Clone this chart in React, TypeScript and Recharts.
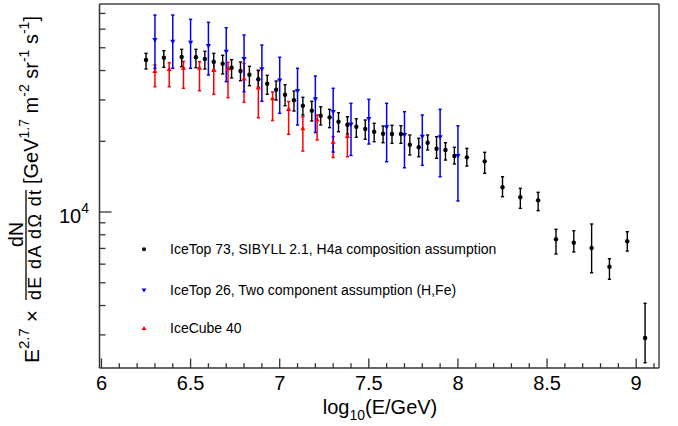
import React from 'react';
import { ComposedChart, Scatter, XAxis, YAxis, ErrorBar, Legend } from 'recharts';

const FONT = '"Liberation Sans", Arial, Helvetica, sans-serif';

// IceTop 73, SIBYLL 2.1, H4a
const blackX = [6.25, 6.35, 6.45, 6.53, 6.58, 6.63, 6.68, 6.73, 6.78, 6.83, 6.88, 6.93, 6.98, 7.03, 7.08,
  7.13, 7.18, 7.23, 7.28, 7.33, 7.38, 7.43, 7.48, 7.53, 7.58, 7.63, 7.68, 7.73, 7.78, 7.83, 7.88, 7.93, 7.98,
  8.05, 8.15, 8.25, 8.35, 8.45, 8.55, 8.65, 8.75, 8.85, 8.95, 9.05];
const blackY = [44360, 45360, 45670, 45530, 44770, 43600, 42760, 41120, 39810, 38400, 36700, 35150, 33150, 31560, 29880,
  28340, 26980, 25690, 25290, 24230, 23530, 23070, 22550, 21960, 21540, 21470, 21470, 19330, 18850, 19720, 18590, 18360, 17310,
  17090, 16430, 12740, 11550, 11210, 7653, 7404, 7027, 5852, 7505, 2909];
const blackLo = [40600, 41280, 41530, 41120, 40600, 40210, 38670, 37180, 36210, 34470, 33940, 31680, 29970, 28340, 26900,
  25870, 24400, 23460, 22850, 21960, 21470, 20790, 20390, 19910, 19720, 19600, 19600, 17480, 17190, 18360, 16920, 16640, 16010,
  15690, 14610, 11620, 10370, 10130, 6628, 6759, 5516, 5171, 6823, 2285];
const blackHi = [47350, 48580, 49240, 49240, 48300, 47350, 46430, 44480, 43470, 41690, 39930, 38170, 36100, 34810, 32730,
  30770, 29590, 28060, 27350, 26460, 25440, 24950, 24640, 23850, 23230, 23390, 23290, 21270, 20590, 21270, 20920, 19720, 18850,
  18660, 17950, 14130, 12610, 12130, 8440, 8325, 8891, 6329, 8245, 4088];

// IceTop 26, two component
const blueX = [6.3, 6.4, 6.5, 6.6, 6.7, 6.8, 6.9, 7.0, 7.1, 7.2, 7.3, 7.4, 7.5, 7.6, 7.7, 7.8, 7.9, 8.0];
const blueY = [53950, 53060, 52540, 50870, 48110, 44770, 40480, 36270, 32730, 30170, 26640, 23570, 24880, 22940, 21270, 20920, 20790, 17310];
const blueLo = [40880, 40880, 40880, 38280, 35850, 32510, 29590, 26300, 23460, 21790, 18000, 17400, 19470, 16370, 15430, 15800, 14130, 11140];
const blueHi = [68910, 68910, 66070, 64150, 60840, 56660, 51370, 45530, 40880, 37910, 33610, 29010, 30170, 29010, 26720, 25870, 27350, 23270];

// IceCube 40
const redX = [6.30, 6.38, 6.46, 6.55, 6.63, 6.71, 6.80, 6.88, 6.96, 7.05, 7.13, 7.21, 7.30, 7.38];
const redY = [39810, 40600, 41120, 41120, 40210, 40880, 37000, 33870, 30470, 27440, 22710, 24760, 19890, 21060];
const redLo = [34140, 34140, 33610, 32820, 31680, 30650, 29300, 25190, 24520, 21430, 18180, 20250, 17060, 17190];
const redHi = [42220, 43180, 43780, 43600, 43180, 43350, 42930, 40210, 32420, 29530, 25440, 25870, 20920, 23230];

const xTicks = [6.0, 6.1, 6.2, 6.3, 6.4, 6.5, 6.6, 6.7, 6.8, 6.9, 7.0, 7.1, 7.2, 7.3, 7.4, 7.5, 7.6, 7.7, 7.8, 7.9,
  8.0, 8.1, 8.2, 8.3, 8.4, 8.5, 8.6, 8.7, 8.8, 8.9, 9.0, 9.1];
const yTicks = [3000, 4000, 5000, 6000, 7000, 8000, 9000, 10000, 20000, 30000, 40000, 50000, 60000, 70000];

const legendLabels = [
  'IceTop 73, SIBYLL 2.1, H4a composition assumption',
  'IceTop 26, Two component assumption (H,Fe)',
  'IceCube 40',
];

const build = (xs: number[], ys: number[], lo: number[], hi: number[]) =>
  xs.map((x, i) => ({ x, y: ys[i], err: [ys[i] - lo[i], hi[i] - ys[i]] }));

const blackData = build(blackX, blackY, blackLo, blackHi);
const blueData = build(blueX, blueY, blueLo, blueHi);
const redData = build(redX, redY, redLo, redHi);

const AXIS = '#333';
const X_DOMAIN: [number, number] = [5.989, 9.128];
const Y_DOMAIN: [number, number] = [2169, 76770];

const XTick = (p: any) => {
  const v = p.payload.value;
  const major = Math.abs(v * 2 - Math.round(v * 2)) < 1e-6;
  return (
    <g>
      <line x1={p.x} x2={p.x} y1={p.y} y2={p.y - (major ? 9.5 : 4.8)} stroke={AXIS} strokeWidth={1.3} />
      {major && (
        <text x={p.x} y={p.y + 22} textAnchor="middle" fontSize={20} fontFamily={FONT} fill="#000">
          {String(Math.round(v * 10) / 10)}
        </text>
      )}
    </g>
  );
};

const YTick = (p: any) => {
  const v = p.payload.value;
  const major = v === 10000;
  return (
    <g>
      <line x1={p.x} x2={p.x + (major ? 12 : 6)} y1={p.y} y2={p.y} stroke={AXIS} strokeWidth={1.3} />
      {major && (
        <text x={p.x - 10.5} y={p.y + 11} textAnchor="end" fontSize={20} fontFamily={FONT} fill="#000">
          10<tspan dy={-10} fontSize={14}>4</tspan>
        </text>
      )}
    </g>
  );
};

const YTitle = () => (
  <g fontFamily={FONT} fill="#000">
    <g transform="rotate(-90)">
      <text x={-363} y={38.5} fontSize={21}>
        E<tspan dy={-9.5} fontSize={15}>2.7</tspan><tspan dy={9.5}> ×</tspan>
      </text>
      <text x={-234.5} y={22.5} textAnchor="middle" fontSize={19.5}>dN</text>
      <line x1={-300} x2={-190} y1={26} y2={26} stroke="#000" strokeWidth={1.3} />
      <text x={-300} y={40.5} fontSize={18} textLength={110} lengthAdjust="spacing">dE dA dΩ dt</text>
      <text x={-184} y={37.5} fontSize={20}>
        [GeV<tspan dy={-9} fontSize={14}>1.7</tspan>
        <tspan dy={9}> m</tspan><tspan dy={-9} fontSize={14}>-2</tspan>
        <tspan dy={9}> sr</tspan><tspan dy={-9} fontSize={14}>-1</tspan>
        <tspan dy={9}> s</tspan><tspan dy={-9} fontSize={14}>-1</tspan>
        <tspan dy={9}>]</tspan>
      </text>
    </g>
  </g>
);

const XTitle = () => (
  <text x={380} y={414} textAnchor="middle" fontSize={20} fontFamily={FONT} fill="#000">
    log<tspan dy={6} fontSize={14}>10</tspan><tspan dy={-6}>(E/GeV)</tspan>
  </text>
);

const dot = (p: any) => <circle cx={p.cx} cy={p.cy} r={2.2} fill="#000" />;
const down = (p: any) => (
  <path d={`M${p.cx - 2.6},${p.cy - 2} L${p.cx + 2.6},${p.cy - 2} L${p.cx},${p.cy + 2.4} Z`} fill="#0000ff" />
);
const up = (p: any) => (
  <path d={`M${p.cx - 2.6},${p.cy + 2} L${p.cx + 2.6},${p.cy + 2} L${p.cx},${p.cy - 2.4} Z`} fill="#ff0000" />
);

const LegendBox = () => (
  <svg width={420} height={110} style={{ display: 'block' }}>
    <circle cx={14} cy={14.3} r={2} fill="#000" />
    <path d="M11.5,53.5 L16.5,53.5 L14,57.5 Z" fill="#0000ff" />
    <path d="M11.5,95 L16.5,95 L14,91 Z" fill="#ff0000" />
    {legendLabels.map((t, i) => (
      <text key={t} x={40} y={[14.3, 55, 93.3][i] + 5} fontSize={14} fontFamily={FONT} fill="#000">
        {t}
      </text>
    ))}
  </svg>
);

export default function App() {
  return (
    <div style={{ position: 'absolute', left: 0, top: 0, width: 678, height: 426, background: '#fff', fontFamily: FONT }}>
      <ComposedChart width={678} height={426} margin={{ top: 3, right: 18, bottom: 57, left: 98.5 }}>
        <XAxis
          xAxisId="b"
          type="number"
          dataKey="x"
          domain={X_DOMAIN}
          allowDataOverflow
          ticks={xTicks}
          interval={0}
          height={1}
          tickSize={0}
          tickMargin={0}
          tickLine={false}
          tick={<XTick />}
          axisLine={{ stroke: AXIS, strokeWidth: 1.5 }}
          label={{ content: <XTitle /> } as any}
        />
        <XAxis
          xAxisId="t"
          orientation="top"
          type="number"
          dataKey="x"
          domain={X_DOMAIN}
          allowDataOverflow
          height={1}
          tick={false}
          tickLine={false}
          axisLine={{ stroke: '#444', strokeWidth: 1.5 }}
        />
        <YAxis
          yAxisId="l"
          type="number"
          scale="log"
          domain={Y_DOMAIN}
          allowDataOverflow
          ticks={yTicks}
          interval={0}
          width={1}
          tickSize={0}
          tickMargin={0}
          tickLine={false}
          tick={<YTick />}
          axisLine={{ stroke: AXIS, strokeWidth: 1.5 }}
          label={{ content: <YTitle /> } as any}
        />
        <YAxis
          yAxisId="r"
          orientation="right"
          type="number"
          scale="log"
          domain={Y_DOMAIN}
          allowDataOverflow
          width={1}
          tick={false}
          tickLine={false}
          axisLine={{ stroke: '#444', strokeWidth: 1.5 }}
        />
        <Legend
          layout="vertical"
          align="center"
          verticalAlign="middle"
          content={() => <LegendBox />}
          wrapperStyle={{ left: 130, top: 235, width: 420, height: 110 }}
        />
        <Scatter xAxisId="b" yAxisId="l" data={redData} dataKey="y" shape={up} isAnimationActive={false}>
          <ErrorBar dataKey="err" direction="y" width={1.6} stroke="#ff0000" strokeWidth={1.5} isAnimationActive={false} />
        </Scatter>
        <Scatter xAxisId="b" yAxisId="l" data={blueData} dataKey="y" shape={down} isAnimationActive={false}>
          <ErrorBar dataKey="err" direction="y" width={1.6} stroke="#0000ff" strokeWidth={1.5} isAnimationActive={false} />
        </Scatter>
        <Scatter xAxisId="b" yAxisId="l" data={blackData} dataKey="y" shape={dot} isAnimationActive={false}>
          <ErrorBar dataKey="err" direction="y" width={1.6} stroke="#000" strokeWidth={1.4} isAnimationActive={false} />
        </Scatter>
      </ComposedChart>
    </div>
  );
}
